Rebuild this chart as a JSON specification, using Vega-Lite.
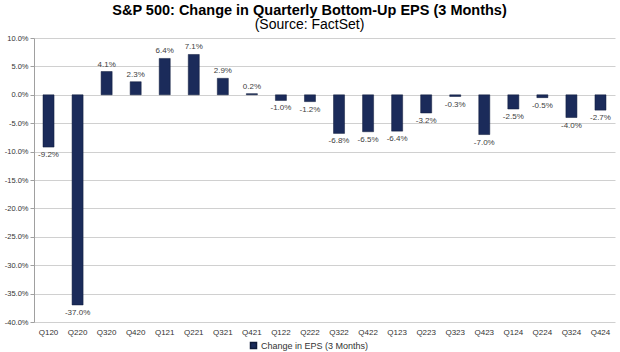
{
  "$schema": "https://vega.github.io/schema/vega-lite/v6.json",
  "width": 581,
  "height": 284,
  "autosize": {"type": "none"},
  "padding": {"left": 34, "top": 38, "right": 5, "bottom": 30},
  "background": "white",
  "title": {
    "text": "S&P 500: Change in Quarterly Bottom-Up EPS (3 Months)",
    "subtitle": "(Source: FactSet)",
    "font": "Liberation Sans",
    "fontSize": 14.5,
    "fontWeight": "bold",
    "color": "#000000",
    "subtitleFont": "Liberation Sans",
    "subtitleFontSize": 14,
    "subtitleColor": "#000000",
    "subtitlePadding": 0,
    "anchor": "middle",
    "dx": -15,
    "offset": 1
  },
  "config": {
    "locale": {"number": {"decimal": ".", "thousands": ",", "grouping": [3], "currency": ["$", ""], "minus": "-"}},
    "view": {"stroke": null},
    "font": "Liberation Sans"
  },
  "data": {
    "values": [
      {"quarter": "Q120", "change": -0.092, "series": "Change in EPS (3 Months)"},
      {"quarter": "Q220", "change": -0.370, "series": "Change in EPS (3 Months)"},
      {"quarter": "Q320", "change": 0.041, "series": "Change in EPS (3 Months)"},
      {"quarter": "Q420", "change": 0.023, "series": "Change in EPS (3 Months)"},
      {"quarter": "Q121", "change": 0.064, "series": "Change in EPS (3 Months)"},
      {"quarter": "Q221", "change": 0.071, "series": "Change in EPS (3 Months)"},
      {"quarter": "Q321", "change": 0.029, "series": "Change in EPS (3 Months)"},
      {"quarter": "Q421", "change": 0.002, "series": "Change in EPS (3 Months)"},
      {"quarter": "Q122", "change": -0.010, "series": "Change in EPS (3 Months)"},
      {"quarter": "Q222", "change": -0.012, "series": "Change in EPS (3 Months)"},
      {"quarter": "Q322", "change": -0.068, "series": "Change in EPS (3 Months)"},
      {"quarter": "Q422", "change": -0.065, "series": "Change in EPS (3 Months)"},
      {"quarter": "Q123", "change": -0.064, "series": "Change in EPS (3 Months)"},
      {"quarter": "Q223", "change": -0.032, "series": "Change in EPS (3 Months)"},
      {"quarter": "Q323", "change": -0.003, "series": "Change in EPS (3 Months)"},
      {"quarter": "Q423", "change": -0.070, "series": "Change in EPS (3 Months)"},
      {"quarter": "Q124", "change": -0.025, "series": "Change in EPS (3 Months)"},
      {"quarter": "Q224", "change": -0.005, "series": "Change in EPS (3 Months)"},
      {"quarter": "Q324", "change": -0.040, "series": "Change in EPS (3 Months)"},
      {"quarter": "Q424", "change": -0.027, "series": "Change in EPS (3 Months)"}
    ]
  },
  "encoding": {
    "x": {
      "field": "quarter",
      "type": "ordinal",
      "sort": null,
      "scale": {"paddingInner": 0.62, "paddingOuter": 0.31},
      "axis": {
        "title": null,
        "labelAngle": 0,
        "labelFontSize": 8,
        "labelColor": "#333333",
        "ticks": false,
        "domain": false,
        "labelPadding": 6
      }
    },
    "y": {
      "field": "change",
      "type": "quantitative",
      "scale": {"domain": [-0.4, 0.1], "nice": false},
      "axis": {
        "title": null,
        "format": ".1%",
        "values": [-0.4, -0.35, -0.3, -0.25, -0.2, -0.15, -0.1, -0.05, 0, 0.05, 0.1],
        "labelFontSize": 7.5,
        "labelColor": "#333333",
        "gridColor": "#d0d0d0",
        "gridWidth": 1,
        "domainColor": "#a0a0a0",
        "tickColor": "#a0a0a0",
        "tickSize": 4,
        "labelPadding": 2
      }
    }
  },
  "layer": [
    {
      "mark": {"type": "bar", "stroke": "#0e1a3a", "strokeWidth": 0.5},
      "encoding": {
        "color": {
          "field": "series",
          "type": "nominal",
          "scale": {"range": ["#1b2b5a"]},
          "legend": {
            "title": null,
            "orient": "none",
            "legendX": 215,
            "legendY": 303,
            "direction": "horizontal",
            "symbolType": "square",
            "symbolSize": 36,
            "symbolOffset": 0,
            "labelOffset": 3,
            "labelFontSize": 9,
            "labelColor": "#333333",
            "padding": 0
          }
        }
      }
    },
    {
      "transform": [{"filter": "datum.change >= 0"}],
      "mark": {"type": "text", "baseline": "bottom", "dy": -3, "fontSize": 8, "color": "#404040"},
      "encoding": {"text": {"field": "change", "type": "quantitative", "format": ".1%"}}
    },
    {
      "transform": [{"filter": "datum.change < 0"}],
      "mark": {"type": "text", "baseline": "top", "dy": 4, "fontSize": 8, "color": "#404040"},
      "encoding": {"text": {"field": "change", "type": "quantitative", "format": ".1%"}}
    }
  ]
}
